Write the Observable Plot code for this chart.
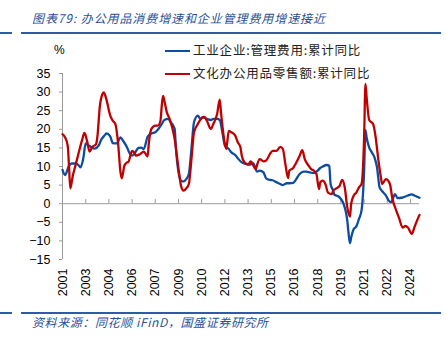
<!DOCTYPE html>
<html><head><meta charset="utf-8">
<script src="https://cdn.jsdelivr.net/npm/d3@7"></script>
<script src="https://cdn.jsdelivr.net/npm/@observablehq/plot@0.6"></script>
<style>
body{margin:0;background:#fff;}
#wrap{position:relative;width:446px;height:341px;overflow:hidden;font-family:"Noto Sans CJK SC",sans-serif;background:#fff;}
.title{position:absolute;left:32px;top:9px;font-size:12px;line-height:18px;font-style:italic;color:#2a4f98;letter-spacing:0.9px;white-space:nowrap;}
.src{position:absolute;left:32px;top:313px;font-size:12px;line-height:18px;font-style:italic;color:#2a4f98;letter-spacing:0.6px;white-space:nowrap;}
.rule{position:absolute;height:2px;background:#2f5aa6;}
.unit{position:absolute;left:54px;top:42px;font-family:"Liberation Sans",sans-serif;font-size:12px;line-height:16px;color:#000;}
.leg{position:absolute;left:165px;font-size:12.5px;line-height:18px;letter-spacing:0.8px;color:#222;white-space:nowrap;}
.leg i{display:inline-block;width:25px;height:0;border-top:2.4px solid;vertical-align:middle;margin-right:3px;position:relative;top:-1px;}
#chart{position:absolute;left:0;top:36px;}
</style>
</head><body>
<div id="wrap">
  <div class="title">图表79:&nbsp;办公用品消费增速和企业管理费用增速接近</div>
  <div class="rule" style="left:0;top:32px;width:12px"></div>
  <div class="rule" style="left:21px;top:32px;width:420px"></div>
  <div class="unit">%</div>
  <div id="chart"></div>
  <div class="leg" id="leg1" style="top:41px"></div>
  <div class="leg" id="leg2" style="top:64px"></div>
  <div class="rule" style="left:0;top:312px;width:12px"></div>
  <div class="rule" style="left:21px;top:312px;width:420px"></div>
  <div class="src">资料来源：同花顺 iFinD，国盛证券研究所</div>
</div>
<script>
const seriesNames = ["工业企业:管理费用:累计同比", "文化办公用品零售额:累计同比"];
const seriesColors = ["#0c4da2", "#c00000"];

const blueDates = [
 "2001-07","2001-09","2001-12",
 "2002-02","2002-05","2002-07","2002-09","2002-11",
 "2003-01","2003-03","2003-06","2003-08","2003-11",
 "2004-01","2004-04","2004-05","2004-08","2004-10",
 "2005-01","2005-04","2005-06","2005-09","2005-11",
 "2006-01","2006-03","2006-06","2006-08","2006-10",
 "2007-01","2007-04","2007-07","2007-09","2007-12",
 "2008-02","2008-05","2008-07","2008-10","2008-11",
 "2009-01","2009-03","2009-05","2009-07","2009-09","2009-11",
 "2010-01","2010-04","2010-06","2010-08","2010-11",
 "2011-02","2011-04","2011-07","2011-09","2011-11",
 "2012-01","2012-04","2012-06","2012-09","2012-11",
 "2013-02","2013-05","2013-08","2013-11",
 "2014-02","2014-04","2014-07","2014-09","2014-12",
 "2015-02","2015-05","2015-08","2015-10",
 "2016-01","2016-03","2016-06","2016-08","2016-11",
 "2017-02","2017-04","2017-07","2017-10",
 "2018-01","2018-03","2018-05","2018-08","2018-10","2018-11",
 "2019-01","2019-02","2019-05","2019-07","2019-09","2019-12",
 "2020-01","2020-02","2020-03","2020-05","2020-07","2020-09","2020-11",
 "2021-01","2021-02","2021-03","2021-05","2021-07","2021-09","2021-11",
 "2022-01","2022-03","2022-06","2022-08","2022-10",
 "2023-01","2023-03","2023-06","2023-08","2023-11",
 "2024-02","2024-04","2024-08"];
const blueValues = [
 9.1,7.7,10.2,
 10.8,10.8,10.5,9.8,12,
 16.2,15.7,15.1,14.8,15.6,
 17.2,18.5,18.9,18.1,16.3,
 16.2,17.8,16.9,15.2,13.6,
 12.9,13.6,15,15.1,14.7,
 18,18.9,19.2,19.9,21.4,
 22.5,22.8,21.9,20.1,14.7,
 8.4,6.2,6,6.6,8,14.7,
 21.9,23.7,22.8,23.3,22.8,
 22.5,22.8,22.8,22.5,19.2,
 15.6,14.7,13.8,13.1,12.2,
 11.1,10.7,10.5,10.8,
 8.6,8.9,8.4,6.8,6.4,
 6.3,5.8,5.3,5,
 5.5,5.5,5.6,6.4,8,
 8.6,8.6,8.4,8.2,
 8.9,9.6,10,10.4,10.2,5.3,
 3.5,2.4,2,1.3,0,-4.6,
 -8.1,-10.6,-9.1,-6.8,-6.1,-4.1,-1.8,
 8.9,19.8,17.8,15.1,13.8,12.5,9.8,
 4.4,3.4,2.2,0.9,0.4,
 2.6,1.5,1.6,1.8,2.2,
 2.5,2.2,1.6];

const redDates = [
 "2001-07","2001-09","2001-11","2001-12",
 "2002-01","2002-03","2002-05","2002-07","2002-10","2002-12",
 "2003-02","2003-04","2003-06","2003-09","2003-10","2003-12",
 "2004-02","2004-03","2004-05","2004-08","2004-10","2004-12",
 "2005-02","2005-04","2005-05","2005-07","2005-09","2005-10",
 "2006-01","2006-03","2006-04","2006-07","2006-10",
 "2007-01","2007-02","2007-04","2007-07","2007-09","2007-11","2007-12",
 "2008-01","2008-02","2008-04","2008-06","2008-08","2008-10",
 "2009-01","2009-03","2009-05","2009-07","2009-09","2009-11",
 "2010-01","2010-04","2010-06","2010-09","2010-11",
 "2011-02","2011-04","2011-07","2011-09","2011-10","2011-12",
 "2012-02","2012-04","2012-06","2012-09","2012-11",
 "2013-01","2013-02","2013-04","2013-07","2013-09",
 "2014-01","2014-02","2014-04","2014-07","2014-09","2014-12",
 "2015-02","2015-05","2015-08","2015-10","2015-12",
 "2016-02","2016-03","2016-06","2016-08","2016-11",
 "2017-01","2017-03","2017-06","2017-08","2017-10","2017-12",
 "2018-02","2018-03","2018-05","2018-07","2018-09","2018-12",
 "2019-01","2019-03","2019-06","2019-08","2019-10","2019-12",
 "2020-02","2020-03","2020-05","2020-07","2020-09","2020-11",
 "2021-01","2021-02","2021-03","2021-05","2021-08","2021-10","2021-12",
 "2022-02","2022-03","2022-06","2022-09","2022-11",
 "2023-02","2023-04","2023-07","2023-09","2023-11",
 "2024-02","2024-04","2024-06","2024-08"];
const redValues = [
 18.7,17.8,15.6,10.2,
 4.1,7.5,10.2,12.9,16.9,19,
 16.9,14,15.2,16,17.8,26.3,
 29.5,29.9,28.1,23.7,22.3,21.4,
 16.5,8.4,6.8,10.2,11.1,11.2,
 14.2,13.6,12.9,13.3,14,
 12.7,16.5,20.1,21,21,22.3,26.3,
 29,27.7,24.5,22.9,20.6,17.4,
 9.3,4.8,3.5,4.1,5.3,11.9,
 19.2,21.4,22.6,23.3,22.3,
 20.1,21.4,24.1,28,24.5,18.3,
 14.7,19.6,19.2,18.3,16.5,
 15.2,13,11.2,10.5,11.4,
 9.3,10.5,12,11.4,11.6,13.4,
 14.2,14.2,15.3,14.7,10.5,
 6.9,8.9,9.6,10.8,12.9,
 14.4,12,10.2,9.3,8.9,8,
 3.9,5.7,6.2,5.3,3,2.6,
 3.5,4,4.8,6.4,4.4,-1,
 -3.5,0,2.2,3,4.4,5.3,
 17.8,32.2,28.6,22.5,21.4,17.8,12,
 7.1,5.3,6.6,5.3,1.3,
 -1.9,-3.7,-6.4,-6,-6.4,
 -8.1,-6.4,-4.6,-3];

const xTickDates = ["2001-07","2003-01","2004-07","2006-01","2007-07","2009-01","2010-07","2012-01",
 "2013-07","2015-01","2016-07","2018-01","2019-07","2021-01","2022-07","2024-01"];
const yTicks = [-15,-10,-5,0,5,10,15,20,25,30,35];

const parse = d3.utcParse("%Y-%m");
const blue = blueDates.map((d,i)=>({date:parse(d), value:blueValues[i]}));
const red = redDates.map((d,i)=>({date:parse(d), value:redValues[i]}));
const xt = xTickDates.map(parse);
const x0 = parse(blueDates[0]), x1 = parse(blueDates[blueDates.length-1]);

const chart = Plot.plot({
  width: 446, height: 270,
  marginLeft: 62, marginRight: 27, marginTop: 37, marginBottom: 47,
  x: {type: "utc", domain: [x0, x1]},
  y: {domain: [-15, 35]},
  style: {fontFamily: "'Liberation Sans', Arial, sans-serif", fontSize: "12.5px", color: "#000", background: "transparent", overflow: "visible"},
  marks: [
    Plot.ruleY([0], {stroke: "#9a9a9a", strokeWidth: 1}),
    Plot.ruleX(xt, {x: d => d, y1: 0, y2: 1.1, stroke: "#9a9a9a"}),
    Plot.ruleX([x0], {y1: -15, y2: 35, stroke: "#9a9a9a"}),
    Plot.axisY({ticks: yTicks, tickSize: 3, tickPadding: 9, stroke: "#9a9a9a", fill: "#000", label: null}),
    Plot.axisX({ticks: xt, tickSize: 0, tickPadding: 9, tickRotate: -90, tickFormat: d3.utcFormat("%Y"), fill: "#000", label: null}),
    Plot.line(blue, {x: "date", y: "value", stroke: seriesColors[0], strokeWidth: 2.3, curve: "monotone-x"}),
    Plot.line(red, {x: "date", y: "value", stroke: seriesColors[1], strokeWidth: 2.3, curve: "monotone-x"})
  ]
});
document.getElementById("chart").appendChild(chart);
["leg1","leg2"].forEach((id,i)=>{
  const el = document.getElementById(id);
  el.innerHTML = `<i style="border-color:${seriesColors[i]}"></i>` + seriesNames[i];
});
</script>
</body></html>
